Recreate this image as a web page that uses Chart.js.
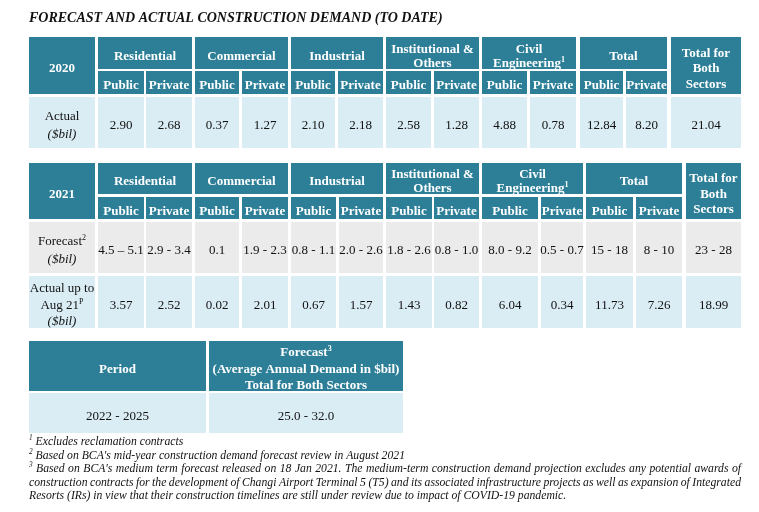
<!DOCTYPE html>
<html>
<head>
<meta charset="utf-8">
<script src="https://cdn.jsdelivr.net/npm/chart.js@4.4.1/dist/chart.umd.min.js"></script>
<style>
  body { margin: 0; background: #fff; }
</style>
</head>
<body>
<canvas id="table" width="759" height="512"></canvas>
<script>
// ---- data ----
const title = 'FORECAST AND ACTUAL CONSTRUCTION DEMAND (TO DATE)';
const sectors = ['Residential', 'Commercial', 'Industrial', ['Institutional &', 'Others'], ['Civil', 'Engineering{1}'], 'Total'];
const subCols = ['Public', 'Private'];
const sectorTotal = ['Total for', 'Both', 'Sectors'];
const unitLabel = '($bil)';

const year2020 = '2020';
const rowLabels2020 = [['Actual', unitLabel]];
const actual2020 = ['2.90', '2.68', '0.37', '1.27', '2.10', '2.18', '2.58', '1.28', '4.88', '0.78', '12.84', '8.20', '21.04'];

const year2021 = '2021';
const rowLabels2021 = [['Forecast{2}', unitLabel], ['Actual up to', 'Aug 21{P}', unitLabel]];
const forecast2021 = ['4.5 – 5.1', '2.9 - 3.4', '0.1', '1.9 - 2.3', '0.8 - 1.1', '2.0 - 2.6', '1.8 - 2.6', '0.8 - 1.0', '8.0 - 9.2', '0.5 - 0.7', '15 - 18', '8 - 10', '23 - 28'];
const actual2021 = ['3.57', '2.52', '0.02', '2.01', '0.67', '1.57', '1.43', '0.82', '6.04', '0.34', '11.73', '7.26', '18.99'];

const periodHeader = 'Period';
const forecastHeader = ['Forecast{3}', '(Average Annual Demand in $bil)', 'Total for Both Sectors'];
const periods = ['2022 - 2025'];
const periodForecast = ['25.0 - 32.0'];

const footnotes = [
  ['{1} Excludes reclamation contracts'],
  ['{2} Based on BCA\'s mid-year construction demand forecast review in August 2021'],
  ['{3} Based on BCA\'s medium term forecast released on 18 Jan 2021. The medium-term construction demand projection excludes any potential awards of',
   'construction contracts for the development of Changi Airport Terminal 5 (T5) and its associated infrastructure projects as well as expansion of Integrated',
   'Resorts (IRs) in view that their construction timelines are still under review due to impact of COVID-19 pandemic.']
];

// ---- layout (canvas units) ----
const W = 759, H = 512;
const TEAL = '#2d7f97', BLUE = '#dbedf4', GREY = '#ebebeb';
const layout = {
  t1: {
    cols: [[29,95],[98,144],[146,192],[195,239],[242,288],[291,335],[338,383],[386,431],[434,479],[482,527],[530,576],[580,623],[626,667],[671,741]],
    groupRow: [37,69], subRow: [71,94], rows: [[97,148]], fills: [BLUE]
  },
  t2: {
    cols: [[29,95],[98,144],[146,192],[195,239],[242,288],[291,336],[339,383],[386,432],[434,479],[482,538],[541,583],[586,633],[636,682],[686,741]],
    groupRow: [163,194], subRow: [197,219], rows: [[222,273],[276,328]], fills: [GREY, BLUE]
  },
  t3: { cols: [[29,206],[209,403]], head: [341,391], rows: [[393,433]] },
  title: { x: 29, y: 17.5 },
  notes: { x: 29, right: 741, y: 441, lh: 13.5, fitWidth: 376 }
};

// ---- text helpers ----
function fontStr(size, f) {
  return (f.style || 'normal') + ' ' + (f.weight || 'normal') + ' ' + size + 'px "Liberation Serif", "Times New Roman", serif';
}
function parse(word) {
  return word.split(/(\{[^}]*\})/).filter(s => s).map(s => s[0] === '{' ? { t: s.slice(1, -1), sup: true } : { t: s, sup: false });
}
function segWidth(ctx, s, f) {
  ctx.font = fontStr(s.sup ? f.size * 0.62 : f.size, f);
  return ctx.measureText(s.t).width;
}
function lineWidth(ctx, str, f) {
  const words = str.split(' ').map(parse);
  let sum = 0;
  words.forEach(w => w.forEach(s => { sum += segWidth(ctx, s, f); }));
  ctx.font = fontStr(f.size, f);
  return sum + ctx.measureText(' ').width * (words.length - 1);
}
function drawLine(ctx, str, x, y, f, opts) {
  opts = opts || {};
  const sx = opts.sx || 1;
  const words = str.split(' ').map(parse);
  ctx.font = fontStr(f.size, f);
  let space = ctx.measureText(' ').width;
  const widths = words.map(w => w.reduce((a, s) => a + segWidth(ctx, s, f), 0));
  const sum = widths.reduce((a, b) => a + b, 0);
  if (opts.justify && words.length > 1) space = (opts.justify / sx - sum) / (words.length - 1);
  const total = (sum + space * (words.length - 1)) * sx;
  const start = opts.align === 'center' ? x - total / 2 : x;
  ctx.save();
  ctx.translate(start, y);
  ctx.scale(sx, 1);
  ctx.fillStyle = f.color;
  ctx.textAlign = 'left';
  ctx.textBaseline = 'alphabetic';
  let cx = 0;
  words.forEach(w => {
    w.forEach(s => {
      const size = s.sup ? f.size * 0.62 : f.size;
      ctx.font = fontStr(size, f);
      ctx.fillText(s.t, cx, s.sup ? -f.size * 0.38 : 0);
      cx += ctx.measureText(s.t).width;
    });
    cx += space;
  });
  ctx.restore();
}

const headFont = { size: 13, weight: 'bold', color: '#ffffff' };
const bodyFont = { size: 13, color: '#111111' };
const unitFont = { size: 13, style: 'italic', color: '#111111' };

function cellText(ctx, lines, cx, cy, f, lh) {
  if (!Array.isArray(lines)) lines = [lines];
  const n = lines.length;
  lines.forEach((l, i) => {
    const font = (l === unitLabel) ? unitFont : f;
    drawLine(ctx, l, cx, cy + 2.5 + (i - (n - 1) / 2) * lh + 0.33 * f.size, font, { align: 'center' });
  });
}

// ---- drawing through the chart scales ----
function drawTable(ctx, X, Y, L, yearLabel, rowLabels, series) {
  const box = (c0, c1, r0, r1, fill) => {
    ctx.fillStyle = fill;
    ctx.fillRect(X(c0), Y(r0), X(c1) - X(c0), Y(r1) - Y(r0));
    return [(X(c0) + X(c1)) / 2, (Y(r0) + Y(r1)) / 2];
  };
  const c = L.cols;
  let p = box(c[0][0], c[0][1], L.groupRow[0], L.subRow[1], TEAL);
  cellText(ctx, yearLabel, p[0], p[1], headFont, 15);
  sectors.forEach((s, g) => {
    const a = c[1 + 2 * g], b = c[2 + 2 * g];
    p = box(a[0], b[1], L.groupRow[0], L.groupRow[1], TEAL);
    cellText(ctx, s, p[0], p[1], headFont, 14);
    subCols.forEach((sc, k) => {
      const cc = c[1 + 2 * g + k];
      p = box(cc[0], cc[1], L.subRow[0], L.subRow[1], TEAL);
      cellText(ctx, sc, p[0], p[1], headFont, 14);
    });
  });
  const last = c[c.length - 1];
  p = box(last[0], last[1], L.groupRow[0], L.subRow[1], TEAL);
  cellText(ctx, sectorTotal, p[0], p[1], headFont, 15.5);

  rowLabels.forEach((lab, r) => {
    const row = L.rows[r];
    p = box(c[0][0], c[0][1], row[0], row[1], L.fills[r]);
    cellText(ctx, lab, p[0], p[1], bodyFont, lab.length > 2 ? 16.5 : 18);
    series[r].forEach((v, j) => {
      const cc = c[1 + j];
      p = box(cc[0], cc[1], row[0], row[1], L.fills[r]);
      cellText(ctx, v, p[0], p[1], bodyFont, 16);
    });
  });
}

const tablePlugin = {
  id: 'tablePlugin',
  beforeDraw(chart) {
    const ctx = chart.ctx;
    ctx.save();
    ctx.fillStyle = '#ffffff';
    ctx.fillRect(0, 0, chart.width, chart.height);
    ctx.restore();
  },
  afterDraw(chart) {
    const ctx = chart.ctx;
    const X = v => chart.scales.x.getPixelForValue(v);
    const Y = v => chart.scales.y.getPixelForValue(v);

    // title
    drawLine(ctx, title, X(layout.title.x), Y(layout.title.y) + 0.33 * 14,
      { size: 14, weight: 'bold', style: 'italic', color: '#111111' });

    drawTable(ctx, X, Y, layout.t1, year2020, rowLabels2020, [actual2020]);
    drawTable(ctx, X, Y, layout.t2, year2021, rowLabels2021, [forecast2021, actual2021]);

    // period table
    const t3 = layout.t3;
    const box = (c, r, fill) => {
      ctx.fillStyle = fill;
      ctx.fillRect(X(c[0]), Y(r[0]), X(c[1]) - X(c[0]), Y(r[1]) - Y(r[0]));
      return [(X(c[0]) + X(c[1])) / 2, (Y(r[0]) + Y(r[1])) / 2];
    };
    let p = box(t3.cols[0], t3.head, TEAL);
    cellText(ctx, periodHeader, p[0], p[1], headFont, 16.5);
    p = box(t3.cols[1], t3.head, TEAL);
    cellText(ctx, forecastHeader, p[0], p[1], headFont, 16.5);
    periods.forEach((per, r) => {
      p = box(t3.cols[0], t3.rows[r], BLUE);
      cellText(ctx, per, p[0], p[1], bodyFont, 16);
      p = box(t3.cols[1], t3.rows[r], BLUE);
      cellText(ctx, periodForecast[r], p[0], p[1], bodyFont, 16);
    });

    // footnotes: condensed italic, fitted to the width of note 2
    const nf = { size: 12.5, style: 'italic', color: '#111111' };
    const n = layout.notes;
    const sx = (X(n.x + n.fitWidth) - X(n.x)) / lineWidth(ctx, footnotes[1][0], nf);
    let line = 0;
    footnotes.forEach(note => {
      note.forEach((txt, i) => {
        const justify = i < note.length - 1 ? X(n.right) - X(n.x) : 0;
        drawLine(ctx, txt, X(n.x), Y(n.y + line * n.lh) + 4, nf, { sx: sx, justify: justify });
        line++;
      });
    });
  }
};

new Chart(document.getElementById('table'), {
  type: 'scatter',
  data: { datasets: [] },
  options: {
    responsive: false,
    animation: false,
    events: [],
    layout: { padding: 0 },
    scales: {
      x: { type: 'linear', min: 0, max: W, display: false },
      y: { type: 'linear', min: 0, max: H, reverse: true, display: false }
    },
    plugins: { legend: { display: false }, tooltip: { enabled: false } }
  },
  plugins: [tablePlugin]
});
</script>
</body>
</html>
